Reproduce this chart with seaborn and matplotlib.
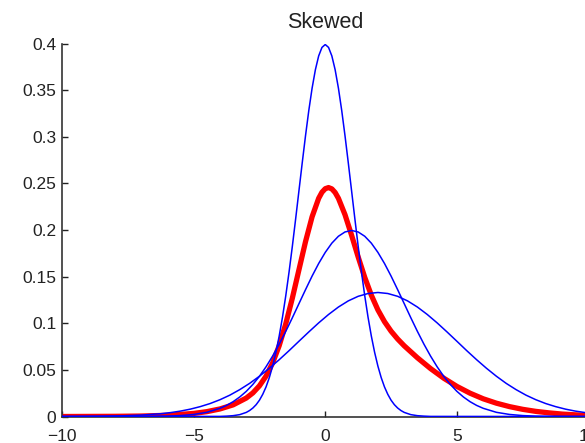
import matplotlib
matplotlib.use("Agg")
import matplotlib.pyplot as plt
import seaborn as sns
import pandas as pd

# ---- data ----
title = "Skewed"
xticks = [-10, -5, 0, 5, 10]
xtick_labels = ["\u221210", "\u22125", "0", "5", "10"]
yticks = [0, 0.05, 0.1, 0.15, 0.2, 0.25, 0.3, 0.35, 0.4]
ytick_labels = ["0", "0.05", "0.1", "0.15", "0.2", "0.25", "0.3", "0.35", "0.4"]

# narrow blue curve (peak 0.4 at 0)
blue1_x = [-10, -4, -3.75, -3.5, -3.25, -3, -2.875, -2.75, -2.625, -2.5, -2.375,
           -2.25, -2.125, -2, -1.875, -1.75, -1.625, -1.5, -1.375, -1.25, -1.125,
           -1, -0.875, -0.75, -0.625, -0.5, -0.375, -0.25, -0.125, 0,
           0.125, 0.25, 0.375, 0.5, 0.625, 0.75, 0.875, 1, 1.125, 1.25, 1.375,
           1.5, 1.625, 1.75, 1.875, 2, 2.125, 2.25, 2.375, 2.5, 2.625, 2.75,
           2.875, 3, 3.25, 3.5, 3.75, 4, 10]
blue1_y = [0.0, 0.0001, 0.0004, 0.0009, 0.0020, 0.0044, 0.0064, 0.0091, 0.0127,
           0.0175, 0.0238, 0.0317, 0.0417, 0.0540, 0.0688, 0.0863, 0.1065, 0.1295,
           0.1550, 0.1826, 0.2119, 0.2420, 0.2720, 0.3011, 0.3282, 0.3521, 0.3719,
           0.3867, 0.3958, 0.3989,
           0.3958, 0.3867, 0.3719, 0.3521, 0.3282, 0.3011, 0.2720, 0.2420, 0.2119,
           0.1826, 0.1550, 0.1295, 0.1065, 0.0863, 0.0688, 0.0540, 0.0417, 0.0317,
           0.0238, 0.0175, 0.0127, 0.0091, 0.0064, 0.0044, 0.0020, 0.0009, 0.0004,
           0.0001, 0.0]

# middle blue curve (peak 0.2 at 1)
blue2_x = [-10, -7, -6.5, -6, -5.5, -5, -4.5, -4, -3.75, -3.5, -3.25, -3, -2.75,
           -2.5, -2.25, -2, -1.75, -1.5, -1.25, -1, -0.75, -0.5, -0.25, 0, 0.25,
           0.5, 0.75, 1, 1.25, 1.5, 1.75, 2, 2.25, 2.5, 2.75, 3, 3.25, 3.5, 3.75,
           4, 4.25, 4.5, 4.75, 5, 5.25, 5.5, 5.75, 6, 6.5, 7, 7.5, 8, 8.5, 9, 10]
blue2_y = [0.0, 0.0001, 0.0002, 0.0004, 0.0010, 0.0022, 0.0045, 0.0088, 0.0119,
           0.0159, 0.0209, 0.0270, 0.0344, 0.0431, 0.0533, 0.0648, 0.0775, 0.0913,
           0.1059, 0.1210, 0.1360, 0.1506, 0.1641, 0.1760, 0.1859, 0.1933, 0.1979,
           0.1995, 0.1979, 0.1933, 0.1859, 0.1760, 0.1641, 0.1506, 0.1360, 0.1210,
           0.1059, 0.0913, 0.0775, 0.0648, 0.0533, 0.0431, 0.0344, 0.0270, 0.0209,
           0.0159, 0.0119, 0.0088, 0.0045, 0.0022, 0.0010, 0.0004, 0.0002, 0.0001,
           0.0]

# wide blue curve (peak 0.133 at 2)
blue3_x = [-10, -9.25, -8.5, -7.75, -7, -6.25, -5.875, -5.5, -5.125, -4.75,
           -4.375, -4, -3.625, -3.25, -2.875, -2.5, -2.125, -1.75, -1.375, -1,
           -0.625, -0.25, 0.125, 0.5, 0.875, 1.25, 1.625, 2, 2.375, 2.75, 3.125,
           3.5, 3.875, 4.25, 4.625, 5, 5.375, 5.75, 6.125, 6.5, 6.875, 7.25,
           7.625, 8, 8.375, 8.75, 9.125, 9.5, 9.875, 10]
blue3_y = [0.0, 0.0001, 0.0003, 0.0007, 0.0015, 0.0030, 0.0042, 0.0058, 0.0079,
           0.0106, 0.0139, 0.0180, 0.0229, 0.0288, 0.0355, 0.0432, 0.0517, 0.0609,
           0.0706, 0.0807, 0.0907, 0.1004, 0.1094, 0.1174, 0.1240, 0.1289, 0.1319,
           0.1330, 0.1319, 0.1289, 0.1240, 0.1174, 0.1094, 0.1004, 0.0907, 0.0807,
           0.0706, 0.0609, 0.0517, 0.0432, 0.0355, 0.0288, 0.0229, 0.0180, 0.0139,
           0.0106, 0.0079, 0.0058, 0.0042, 0.0038]

# thick red skewed curve
red_x = [-10, -9, -8, -7, -6, -5, -4.5, -4, -3.5, -3, -2.75, -2.5, -2.25, -2,
         -1.75, -1.5, -1.25, -1, -0.75, -0.5, -0.25, -0.125, 0, 0.125, 0.25,
         0.375, 0.5, 0.75, 1, 1.25, 1.5, 1.75, 2, 2.25, 2.5, 2.75, 3, 3.5, 4,
         4.5, 5, 5.5, 6, 6.5, 7, 7.5, 8, 8.5, 9, 9.5, 10]
red_y = [0.0000, 0.0001, 0.0002, 0.0005, 0.0013, 0.0033, 0.0052, 0.0081, 0.0125,
         0.0198, 0.0253, 0.0329, 0.0433, 0.0574, 0.0760, 0.0994, 0.1270, 0.1573,
         0.1875, 0.2142, 0.2340, 0.2405, 0.2443, 0.2455, 0.2441, 0.2402, 0.2340,
         0.2164, 0.1944, 0.1711, 0.1492, 0.1301, 0.1143, 0.1017, 0.0915, 0.0831,
         0.0758, 0.0630, 0.0514, 0.0411, 0.0323, 0.0250, 0.0190, 0.0143, 0.0106,
         0.0077, 0.0055, 0.0039, 0.0026, 0.0018, 0.0011]

# ---- drawing ----
sns.set_style("ticks")
plt.rcParams["font.family"] = ["Liberation Sans", "DejaVu Sans"]

fig = plt.figure(figsize=(5.85, 4.43), dpi=100)
ax = fig.add_axes([0.106, 0.0598, 0.900, 0.842])

red_df = pd.DataFrame({"x": red_x, "y": red_y})
sns.lineplot(data=red_df, x="x", y="y", color=(1.0, 0.0, 0.0), linewidth=3.8,
             ax=ax, zorder=2)
for bx, by in [(blue1_x, blue1_y), (blue2_x, blue2_y), (blue3_x, blue3_y)]:
    df = pd.DataFrame({"x": bx, "y": by})
    sns.lineplot(data=df, x="x", y="y", color=(0.0, 0.0, 1.0), linewidth=1.1,
                 ax=ax, zorder=3)

ax.set_xlim(-10, 10)
ax.set_ylim(0, 0.4)
ax.set_xticks(xticks)
ax.set_xticklabels(xtick_labels)
ax.set_yticks(yticks)
ax.set_yticklabels(ytick_labels)
ax.set_xlabel("")
ax.set_ylabel("")
ax.tick_params(direction="in", length=4, width=1.0, colors="#222222",
               labelsize=12.5, labelcolor="#222222")
ax.tick_params(axis="x", pad=9)
ax.tick_params(axis="y", pad=4)
for side in ["top", "right"]:
    ax.spines[side].set_visible(False)
for side in ["left", "bottom"]:
    ax.spines[side].set_color("#333333")
    ax.spines[side].set_linewidth(1.2)
ax.set_title(title, fontsize=15.5, color="#222222", pad=11)

fig.savefig("out.png", dpi=100)
